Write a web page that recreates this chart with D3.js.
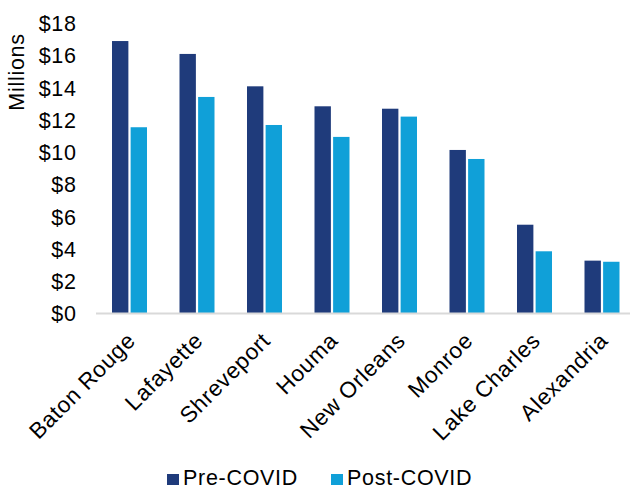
<!DOCTYPE html>
<html>
<head>
<meta charset="utf-8">
<script src="https://cdn.jsdelivr.net/npm/d3@7"></script>
<style>
  html, body { margin: 0; padding: 0; background: #fff; }
  svg { display: block; font-family: "Liberation Sans", Arial, sans-serif; }
  text { letter-spacing: 0.7px; }
</style>
</head>
<body>
<svg id="chart" width="630" height="489"></svg>
<script>
// Metro areas and spending (millions of dollars)
const cities = ["Baton Rouge", "Lafayette", "Shreveport", "Houma", "New Orleans", "Monroe", "Lake Charles", "Alexandria"];
const preCovid = [16.88, 16.08, 14.07, 12.83, 12.68, 10.12, 5.48, 3.25];
const postCovid = [11.53, 13.41, 11.67, 10.93, 12.19, 9.56, 3.83, 3.18];
const seriesNames = ["Pre-COVID", "Post-COVID"];
const yTicks = [0, 2, 4, 6, 8, 10, 12, 14, 16, 18];

const colors = { "Pre-COVID": "#1f3b7b", "Post-COVID": "#10a0d8" };
const fontSize = 21.5;

const svg = d3.select("#chart");
const x0 = 96, x1 = 636, yTop = 23, yBase = 313;

const x = d3.scaleBand().domain(cities).range([x0, x1]).paddingInner(0).paddingOuter(0);
const y = d3.scaleLinear().domain([0, 18]).range([yBase, yTop]);

const rows = cities.map((c, i) => ({ city: c, values: [
  { name: seriesNames[0], value: preCovid[i] },
  { name: seriesNames[1], value: postCovid[i] }
]}));

const inner = d3.scaleBand().domain(seriesNames).range([16, 51]).paddingInner(0.12);

// Bars
const groups = svg.append("g").selectAll("g").data(rows).join("g")
  .attr("transform", d => `translate(${x(d.city)},0)`);
groups.selectAll("rect").data(d => d.values).join("rect")
  .attr("x", d => inner(d.name))
  .attr("width", inner.bandwidth())
  .attr("y", d => y(d.value))
  .attr("height", d => y(0) - y(d.value))
  .attr("fill", d => colors[d.name]);

// Baseline
svg.append("line")
  .attr("x1", x0).attr("x2", x1)
  .attr("y1", yBase + 0.5).attr("y2", yBase + 0.5)
  .attr("stroke", "#d9d9d9").attr("stroke-width", 2);

// Y axis labels
const yAxis = d3.axisLeft(y).tickValues(yTicks).tickFormat(d => "$" + d).tickSize(0).tickPadding(0);
const yg = svg.append("g").attr("transform", "translate(76.7,0)").call(yAxis);
yg.select(".domain").remove();
yg.selectAll("text")
  .attr("font-size", fontSize).attr("fill", "#000")
  .attr("font-family", "Liberation Sans, Arial, sans-serif")
  .attr("dy", "0.36em");

svg.append("text")
  .attr("transform", "translate(24,72) rotate(-90)")
  .attr("text-anchor", "middle")
  .attr("font-size", fontSize)
  .text("Millions");

// X axis labels rotated
const xAxis = d3.axisBottom(x).tickSize(0).tickPadding(0);
const xg = svg.append("g").attr("transform", `translate(0,${yBase})`).call(xAxis);
xg.select(".domain").remove();
xg.selectAll("text")
  .attr("font-size", 22.5).attr("fill", "#000")
  .attr("font-family", "Liberation Sans, Arial, sans-serif")
  .attr("text-anchor", "end")
  .attr("dy", null)
  .attr("y", 0)
  .attr("transform", "translate(7,29) rotate(-45)");

// Legend
const legend = svg.append("g");
const legendPos = [167, 331];
seriesNames.forEach((name, i) => {
  const lg = legend.append("g").attr("transform", `translate(${legendPos[i]},474)`);
  lg.append("rect").attr("width", 12).attr("height", 11).attr("fill", colors[name]);
  lg.append("text").attr("x", 16).attr("y", 10.5).attr("font-size", fontSize).text(name);
});
</script>
</body>
</html>
